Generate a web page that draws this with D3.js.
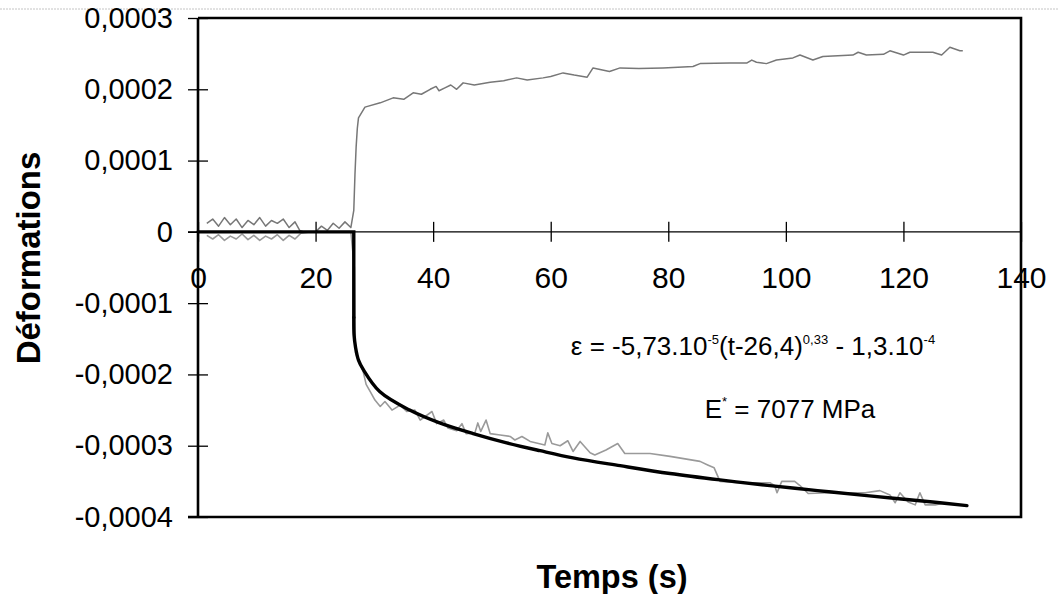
<!DOCTYPE html>
<html>
<head>
<meta charset="utf-8">
<script src="https://cdn.jsdelivr.net/npm/d3@7"></script>
<style>
  html, body { margin: 0; padding: 0; background: #fff; }
  svg { display: block; font-family: "Liberation Sans", Arial, Helvetica, sans-serif; }
</style>
</head>
<body>
<svg id="chart" width="1058" height="594"></svg>
<script>
// ---------------- data ----------------
const xTicks = [0, 20, 40, 60, 80, 100, 120, 140];
const xTickLabels = ["0", "20", "40", "60", "80", "100", "120", "140"];
const yTicks = [-0.0004, -0.0003, -0.0002, -0.0001, 0, 0.0001, 0.0002, 0.0003];
const yTickLabels = ["-0,0004", "-0,0003", "-0,0002", "-0,0001", "0", "0,0001", "0,0002", "0,0003"];

// experimental curve, positive branch (time s, strain x1e-4)
const upperT = [1.5, 2.5, 3.5, 4.5, 5.5, 6.5, 7.5, 8.5, 9.5, 10.5, 11.5, 12.5, 13.5, 14.5, 15.5, 16.5, 17.3,
  18, 20, 21, 22, 23, 24, 25, 26, 26.5, 26.7, 26.9, 27.1, 27.3, 28.4, 31, 33.2, 35, 36.6, 38, 39.5, 40.5, 41, 42, 43, 44,
  45.1, 47, 49.7, 52, 54.2, 56, 58.7, 60, 62.1, 64, 66.2, 67.2, 70, 71.8, 75, 79.1, 84.2, 85.4, 90.5, 93.4, 94.2,
  95, 96.7, 98.4, 101.2, 102.4, 104.6, 106.3, 111.4, 112.3, 113.7, 116.6, 117.7, 120, 121.1, 125, 126.5, 127.9, 129.6, 130.1];
const upperV = [0.12, 0.18, 0.08, 0.2, 0.1, 0.18, 0.06, 0.16, 0.1, 0.2, 0.08, 0.16, 0.12, 0.18, 0.06, 0.14, 0.02,
  0, 0, 0.08, 0.02, 0.12, 0.05, 0.14, 0.06, 0.3, 0.8, 1.19, 1.45, 1.6, 1.75, 1.81, 1.88, 1.86, 1.95, 1.93, 2.0, 2.04, 1.98, 2.02, 2.06, 2.0,
  2.09, 2.06, 2.1, 2.12, 2.16, 2.13, 2.16, 2.18, 2.23, 2.2, 2.17, 2.3, 2.25, 2.3, 2.29, 2.3, 2.32, 2.36, 2.37, 2.37, 2.41,
  2.38, 2.36, 2.41, 2.44, 2.48, 2.41, 2.46, 2.48, 2.52, 2.48, 2.49, 2.54, 2.48, 2.52, 2.52, 2.48, 2.59, 2.54, 2.54];

// experimental curve, negative branch (time s, strain x1e-4)
const lowerT = [1.5, 2.5, 3.5, 4.5, 5.5, 6.5, 7.5, 8.5, 9.5, 10.5, 11.5, 12.5, 13.5, 14.5, 15.5, 16.5, 17.5, 19, 26,
  26.6, 26.7, 26.8, 28.1, 28.6, 29.3, 30.1, 31, 31.8, 33, 34.4, 35.5, 36.9, 37.8, 39.8, 40.6, 41.8, 42.5, 44, 44.9, 45.6,
  47.1, 47.6, 48.1, 49, 49.7, 51.4, 53.1, 53.9, 55.1, 56.5, 59, 59.5, 60.2, 61.6, 62.9, 63.8, 65, 66.7, 67.5, 69.4, 71.4,
  72.6, 76.9, 80.3, 85.4, 86.7, 87.8, 88.8, 92.2, 97.3, 98.1, 98.5, 99.3, 101.5, 102.4, 103.8, 107.5, 113.5, 116, 117.7,
  118.6, 119.4, 120.8, 122, 122.8, 123.7, 125.4, 127.1];
const lowerV = [-0.05, -0.1, -0.04, -0.12, -0.06, -0.1, -0.03, -0.11, -0.05, -0.12, -0.06, -0.1, -0.04, -0.12, -0.05, -0.1, -0.02, 0, 0,
  -0.5, -1.2, -1.7, -1.96, -2.14, -2.24, -2.36, -2.45, -2.38, -2.5, -2.43, -2.52, -2.5, -2.64, -2.52, -2.69, -2.64, -2.75, -2.79, -2.69, -2.83,
  -2.82, -2.68, -2.8, -2.64, -2.83, -2.85, -2.87, -2.92, -2.87, -2.94, -2.99, -2.82, -2.97, -3.0, -2.93, -3.08, -2.94, -3.1, -3.13, -3.06, -2.97,
  -3.11, -3.11, -3.15, -3.22, -3.27, -3.31, -3.5, -3.52, -3.52, -3.56, -3.66, -3.5, -3.5, -3.56, -3.67, -3.66, -3.66, -3.63, -3.69,
  -3.8, -3.66, -3.79, -3.83, -3.66, -3.83, -3.83, -3.8];

// fitted model (time s, strain x1e-4)
const fitT = [0, 26.5, 26.5, 26.55, 26.8, 27.3, 28.1, 30.9, 36.0, 41.1, 46.8, 52.5, 58.2, 63.8, 71.8, 80.3, 88.8, 97.3, 105.4, 113.8, 125.0, 130.8];
const fitV = [0, 0, -1.2, -1.45, -1.62, -1.8, -1.93, -2.24, -2.5, -2.68, -2.83, -2.96, -3.07, -3.17, -3.28, -3.39, -3.48, -3.56, -3.63, -3.70, -3.79, -3.84];

const SCALE = 1e-4;
const zip = (ts, vs) => ts.map((t, i) => ({ t: t, v: vs[i] * SCALE }));

// ---------------- layout ----------------
const svg = d3.select("#chart");
const pLeft = 198, pRight = 1021, pTop = 18, pBottom = 517;
const x = d3.scaleLinear().domain([0, 140]).range([pLeft, pRight]);
const y = d3.scaleLinear().domain([-0.0004, 0.0003]).range([pBottom, pTop]);

// faint scan line at the very top
svg.append("line").attr("x1", 0).attr("x2", 1058).attr("y1", 9).attr("y2", 9)
  .attr("stroke", "#c4c4c4").attr("stroke-width", 1).attr("stroke-dasharray", "2,1");

// frame (top, right, bottom)
svg.append("path")
  .attr("d", `M${pLeft},${pTop} H${pRight} V${pBottom} H${pLeft - 10}`)
  .attr("fill", "none").attr("stroke", "#000").attr("stroke-width", 2.6);

// ---------------- series ----------------
const line = d3.line().x(d => x(d.t)).y(d => y(d.v));
svg.append("path").datum(zip(lowerT, lowerV)).attr("d", line)
  .attr("fill", "none").attr("stroke", "#9a9a9a").attr("stroke-width", 1.6).attr("stroke-linejoin", "round");
svg.append("path").datum(zip(upperT, upperV)).attr("d", line)
  .attr("fill", "none").attr("stroke", "#777").attr("stroke-width", 1.5).attr("stroke-linejoin", "round");

// ---------------- axes ----------------
const yAxis = d3.axisLeft(y).tickValues(yTicks).tickSize(10).tickPadding(15)
  .tickFormat((d, i) => yTickLabels[i]);
const gy = svg.append("g").attr("transform", `translate(${pLeft},0)`).call(yAxis);
gy.select(".domain").attr("stroke-width", 2.6).attr("d", `M0,${pTop}V${pBottom}`);
gy.selectAll(".tick line").attr("x1", 10).attr("stroke-width", 1.3);
gy.selectAll(".tick text").attr("font-size", 29).attr("fill", "#000")
  .attr("font-family", "Liberation Sans, Arial, sans-serif");

const xAxis = d3.axisBottom(x).tickValues(xTicks).tickSize(10).tickPadding(25)
  .tickFormat((d, i) => xTickLabels[i]);
const gx = svg.append("g").attr("transform", `translate(0,${y(0)})`).call(xAxis);
gx.select(".domain").attr("d", `M${pLeft - 10},0H${pRight}`).attr("stroke-width", 1.3);
gx.selectAll(".tick line").attr("y1", -10).attr("stroke-width", 1.3);
gx.selectAll(".tick text").attr("font-size", 30).attr("fill", "#000")
  .attr("font-family", "Liberation Sans, Arial, sans-serif");

// fitted curve on top: straight step part, then smooth decay part
const fitData = zip(fitT, fitV);
const stepLine = d3.line().x(d => x(d.t)).y(d => y(d.v));
const fitLine = d3.line().x(d => x(d.t)).y(d => y(d.v)).curve(d3.curveCatmullRom.alpha(0.5));
svg.append("path").datum(fitData.slice(0, 3)).attr("d", stepLine)
  .attr("fill", "none").attr("stroke", "#000").attr("stroke-width", 3.4)
  .attr("stroke-linejoin", "miter").attr("stroke-linecap", "round");
svg.append("path").datum(fitData.slice(2)).attr("d", fitLine)
  .attr("fill", "none").attr("stroke", "#000").attr("stroke-width", 3.4)
  .attr("stroke-linejoin", "round").attr("stroke-linecap", "round");

// ---------------- titles ----------------
svg.append("text").attr("x", 612).attr("y", 588).attr("text-anchor", "middle")
  .attr("font-size", 32.5).attr("font-weight", "bold").text("Temps (s)");
svg.append("text").attr("transform", "translate(40,258) rotate(-90)").attr("text-anchor", "middle")
  .attr("font-size", 33).attr("font-weight", "bold").text("Déformations");

// ---------------- annotations ----------------
const eq = svg.append("text").attr("x", 753).attr("y", 355).attr("text-anchor", "middle").attr("font-size", 26);
eq.append("tspan").text("ε = -5,73.10");
eq.append("tspan").attr("font-size", 13).attr("dy", -11).text("-5");
eq.append("tspan").attr("dy", 11).text("(t-26,4)");
eq.append("tspan").attr("font-size", 13).attr("dy", -11).text("0,33");
eq.append("tspan").attr("dy", 11).text(" - 1,3.10");
eq.append("tspan").attr("font-size", 13).attr("dy", -11).text("-4");

const em = svg.append("text").attr("x", 790).attr("y", 418).attr("text-anchor", "middle").attr("font-size", 26);
em.append("tspan").text("E");
em.append("tspan").attr("font-size", 13).attr("dy", -12).text("*");
em.append("tspan").attr("dy", 12).text(" = 7077 MPa");
</script>
</body>
</html>
